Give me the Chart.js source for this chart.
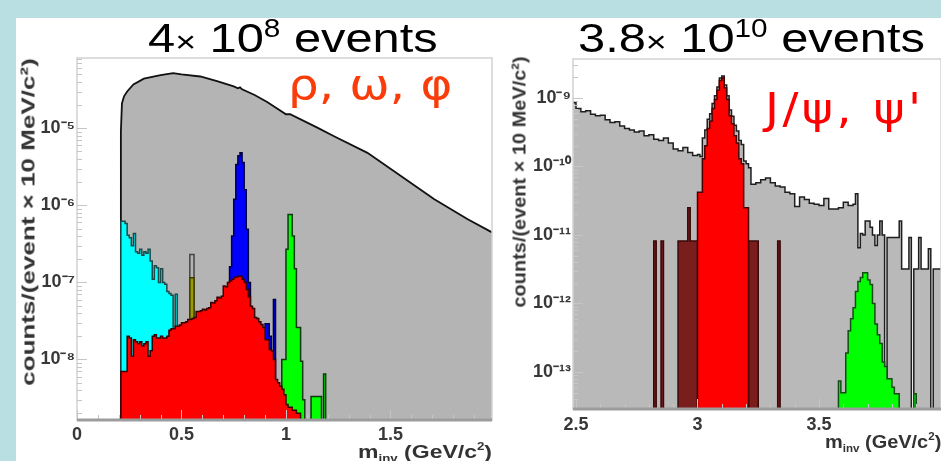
<!DOCTYPE html>
<html>
<head>
<meta charset="utf-8">
<title>Dilepton invariant mass spectra</title>
<script src="https://cdn.jsdelivr.net/npm/chart.js@4.4.1/dist/chart.umd.min.js"></script>
<style>
  body { margin: 0; width: 941px; height: 461px; overflow: hidden; position: relative;
         background: #badfe3; font-family: 'Liberation Sans', Arial, sans-serif; }
  #sheet { position: absolute; left: 16px; top: 18px; right: 0; bottom: 0; background: #fff; }
  .plot { position: absolute; top: 40px; }
  .head { position: absolute; top: 18px; font-size: 41px; line-height: 41px; white-space: nowrap; color: #000;
          transform: scaleX(1.19); transform-origin: 0 0; }
  .head .times { font-size: 30px; }
  .head sup { font-size: 25px; line-height: 0; vertical-align: 15px; }
  .tag { position: absolute; font-family: 'DejaVu Sans', sans-serif; line-height: 1; white-space: nowrap;
         transform-origin: 0 0; }
  .ytitle, .xtitle { position: absolute; font-size: 19px; font-weight: bold; color: #333;
                     line-height: 1; white-space: nowrap; }
  .xtitle { transform-origin: 0 0; }
  .xtitle sub { font-size: 11px; vertical-align: -4px; line-height: 0; }
  .xtitle sup { font-size: 11px; vertical-align: 8px; line-height: 0; }
</style>
</head>
<body>
<div id="sheet"></div>
<canvas id="lowMass" class="plot" width="484" height="421" style="left:16px"></canvas>
<canvas id="charmonium" class="plot" width="441" height="421" style="left:500px"></canvas>

<div class="head" style="left:148px">4<span class="times">×</span> 10<sup>8</sup> events</div>
<div class="head" style="left:578px">3.8<span class="times">×</span> 10<sup>10</sup> events</div>
<div class="tag" style="left:288px; top:64px; font-size:42px; color:#fa3c0a; transform: scaleX(1.15)">ρ, ω, φ</div>
<div class="tag" style="left:765px; top:88px; font-size:42px; letter-spacing: 3px; color:#f00; transform: scaleX(1.13)">J/ψ, ψ'</div>

<div class="ytitle" style="left:28px; top:222px; transform: translate(-50%,-50%) rotate(-90deg) scaleX(1.37)">counts/(event × 10 MeV/c²)</div>
<div class="ytitle" style="left:519px; top:182px; transform: translate(-50%,-50%) rotate(-90deg) scaleX(1.05)">counts/(event × 10 MeV/c²)</div>
<div class="xtitle" style="left:358px; top:442px; transform: scaleX(1.21)">m<sub>inv</sub> (GeV/c<sup>2</sup>)</div>
<div class="xtitle" style="left:825px; top:432px; transform: scaleX(1.05)">m<sub>inv</sub> (GeV/c<sup>2</sup>)</div>

<script>
// ---------- low mass region, 0 - 2 GeV/c2 ----------
const lowTicksX = [0, 0.5, 1, 1.5];
const lowDecades = [1e-8, 1e-7, 1e-6, 1e-5];

// full cocktail, smooth enough to draw as a line
const sumMass  = [0.21, 0.21, 0.215, 0.225, 0.24, 0.27, 0.32, 0.40, 0.46, 0.50, 0.59, 0.67, 0.75, 0.77,
                  0.78, 0.79, 0.85, 0.91, 1.00, 1.02, 1.15, 1.23, 1.39, 1.55, 1.71, 1.87, 1.99];
const sumYield = [0, 9e-6, 2.1e-5, 2.6e-5, 3.0e-5, 3.7e-5, 4.4e-5, 4.9e-5, 5.2e-5, 5.0e-5, 4.7e-5, 4.1e-5, 3.5e-5, 3.3e-5,
                  3.4e-5, 3.2e-5, 2.7e-5, 2.2e-5, 1.52e-5, 1.52e-5, 1.02e-5, 7.9e-6, 4.8e-6, 2.4e-6, 1.2e-6, 6.6e-7, 4.4e-7];

// bin edges (one more than contents) and contents per 10 MeV
const dalitzMass  = [0.21, 0.22, 0.23, 0.24, 0.25, 0.26, 0.27, 0.28, 0.29, 0.30, 0.31, 0.32, 0.33, 0.34, 0.35,
                     0.36, 0.37, 0.38, 0.39, 0.40, 0.41, 0.42, 0.43, 0.44, 0.45, 0.46, 0.47, 0.48, 0.49];
const dalitzYield = [6.2e-7, 6.2e-7, 5.8e-7, 4.1e-7, 3.8e-7, 3.0e-7, 4.3e-7, 2.5e-7, 2.4e-7, 2.7e-7,
                     2.25e-7, 2.5e-7, 2.4e-7, 2.7e-7, 1.9e-7, 1.1e-7, 1.65e-7, 1.55e-7, 1.0e-7, 1.5e-7,
                     1.0e-7, 9.5e-8, 7.6e-8, 7.2e-8, 6.8e-8, 2.5e-8, 7.0e-8, 1.8e-8];

const rhoMass  = [0.21, 0.22, 0.23, 0.24, 0.25, 0.26, 0.27, 0.28, 0.29, 0.30,
                  0.31, 0.32, 0.33, 0.34, 0.35, 0.36, 0.37, 0.38, 0.39, 0.40,
                  0.41, 0.42, 0.43, 0.44, 0.45, 0.46, 0.47, 0.48, 0.49, 0.50,
                  0.51, 0.52, 0.53, 0.54, 0.55, 0.56, 0.57, 0.58, 0.59, 0.60,
                  0.61, 0.62, 0.63, 0.64, 0.65, 0.66, 0.67, 0.68, 0.69, 0.70,
                  0.71, 0.72, 0.73, 0.74, 0.75, 0.76, 0.77, 0.78, 0.79, 0.80,
                  0.81, 0.82, 0.83, 0.84, 0.85, 0.86, 0.87, 0.88, 0.89, 0.90,
                  0.91, 0.92, 0.93, 0.94, 0.95, 0.96, 0.97, 0.98, 0.99, 1.00,
                  1.01, 1.02, 1.03, 1.04, 1.05, 1.06, 1.07];
const rhoYield = [7.0e-9, 7.0e-9, 7.0e-9, 2.0e-8, 1.9e-8, 1.1e-8, 1.8e-8, 1.7e-8, 1.6e-8, 1.7e-8,
                  1.5e-8, 1.6e-8, 1.7e-8, 1.1e-8, 1.3e-8, 2.0e-8, 2.1e-8, 1.9e-8, 1.9e-8, 2.0e-8,
                  1.9e-8, 1.9e-8, 2.0e-8, 2.4e-8, 2.5e-8, 2.5e-8, 2.7e-8, 2.7e-8, 2.8e-8, 3.0e-8,
                  3.0e-8, 3.1e-8, 3.3e-8, 3.3e-8, 3.4e-8, 3.5e-8, 4.2e-8, 4.2e-8, 4.3e-8, 4.5e-8,
                  4.4e-8, 4.6e-8, 4.7e-8, 5.5e-8, 5.4e-8, 5.8e-8, 6.4e-8, 6.3e-8, 6.6e-8, 9.0e-8,
                  8.8e-8, 1.0e-7, 1.04e-7, 1.1e-7, 1.16e-7, 1.18e-7, 1.2e-7, 1.2e-7, 1.1e-7, 1.0e-7,
                  8.1e-8, 6.5e-8, 4.9e-8, 4.6e-8, 3.5e-8, 3.4e-8, 3.1e-8, 2.85e-8, 2.6e-8, 1.8e-8,
                  1.8e-8, 1.35e-8, 1.3e-8, 1.0e-8, 5.5e-9, 5.0e-9, 4.5e-9, 4.1e-9, 3.5e-9, 2.6e-9,
                  2.4e-9, 2.4e-9, 2.2e-9, 2.2e-9, 2.0e-9, 2.0e-9];

const omegaMass  = [0.73, 0.74, 0.75, 0.76, 0.77, 0.78, 0.79, 0.80, 0.81, 0.82, 0.83, 0.84,
                    0.85, 0.86, 0.87, 0.88, 0.89, 0.90, 0.91, 0.92, 0.93, 0.94, 0.95];
const omegaYield = [1.6e-7, 4.0e-7, 1.2e-6, 3.4e-6, 4.4e-6, 4.8e-6, 3.6e-6, 1.6e-6, 4.9e-7, 1.0e-7, 4.0e-8,
                    3.5e-8, 3.0e-8, 2.8e-8, 2.5e-8, 2.2e-8, 2.0e-8, 2.9e-8, 2.9e-8, 2.0e-8, 1.0e-8, 6.0e-8];

const etaSumMass  = [0.54, 0.55, 0.56];
const etaSumYield = [2.3e-7, 2.3e-7];
const etaMass  = [0.54, 0.55, 0.56];
const etaYield = [1.15e-7, 1.15e-7];

const phiMass  = [0.98, 0.99, 1.00, 1.01, 1.02, 1.03, 1.04, 1.05, 1.06, 1.07, 1.08, 1.09];
const phiYield = [1.0e-8, 1.0e-8, 2.7e-7, 7.6e-7, 7.6e-7, 4.0e-7, 1.5e-7, 2.6e-8, 2.6e-8, 9.5e-9, 3.0e-9];
const phiTailMass  = [1.12, 1.17, 1.18, 1.19];
const phiTailYield = [3.3e-9, 0, 6.5e-9];

// ---------- charmonium region, 2.5 - 4 GeV/c2 ----------
const charmTicksX = [2.5, 3, 3.5];
const charmDecades = [1e-13, 1e-12, 1e-11, 1e-10, 1e-9];

const contMass  = [2.48, 2.50, 2.52, 2.54, 2.56, 2.58, 2.60, 2.62, 2.64, 2.66, 2.68, 2.70, 2.72,
                   2.74, 2.76, 2.78, 2.80, 2.82, 2.84, 2.86, 2.88, 2.90, 2.92, 2.94, 2.96, 2.98,
                   3.00, 3.01, 3.02, 3.03, 3.04, 3.05, 3.06, 3.07, 3.08, 3.09, 3.10,
                   3.11, 3.12, 3.13, 3.14, 3.15, 3.16, 3.17, 3.18, 3.19, 3.20, 3.21,
                   3.22, 3.24, 3.26, 3.28, 3.30, 3.32, 3.34, 3.36, 3.38, 3.40, 3.42,
                   3.44, 3.46, 3.48, 3.50, 3.52, 3.54, 3.56, 3.58, 3.60, 3.62,
                   3.64, 3.65, 3.66, 3.67, 3.68, 3.69, 3.70, 3.71, 3.72, 3.73, 3.74, 3.75,
                   3.76, 3.77, 3.78, 3.79, 3.80, 3.81, 3.82, 3.83, 3.84, 3.85, 3.86, 3.87,
                   3.88, 3.89, 3.90, 3.91, 3.92, 3.93, 3.94, 3.95, 3.96, 3.97, 3.98, 3.99, 4.01];
const contYield = [8.5e-10, 7.0e-10, 6.3e-10, 6.5e-10, 5.8e-10, 5.5e-10, 5.6e-10, 4.8e-10, 4.4e-10, 4.5e-10,
                   3.9e-10, 3.6e-10, 3.4e-10, 3.2e-10, 3.3e-10, 2.8e-10, 2.9e-10, 2.5e-10, 2.4e-10, 2.6e-10,
                   2.2e-10, 1.8e-10, 1.7e-10, 1.9e-10, 1.6e-10, 1.45e-10,
                   1.5e-10, 1.4e-10, 2.6e-10, 3.4e-10, 4.9e-10, 5.9e-10, 8.3e-10, 1.08e-9, 1.45e-9, 1.95e-9, 2.1e-9,
                   1.55e-9, 1.08e-9, 6.7e-10, 5.4e-10, 4.0e-10, 3.3e-10, 2.4e-10, 2.1e-10, 1.2e-10, 1.1e-10, 9.6e-11,
                   5.5e-11, 5.8e-11, 6.4e-11, 6.8e-11, 5.8e-11, 5.2e-11, 5.0e-11, 4.2e-11, 4.0e-11, 2.6e-11, 3.6e-11,
                   3.3e-11, 2.9e-11, 2.8e-11, 2.7e-11, 3.4e-11, 2.4e-11, 2.4e-11, 2.5e-11, 3.0e-11, 2.7e-11,
                   2.8e-11, 4.0e-11, 6.5e-12, 1.05e-11, 1.0e-11, 1.6e-11, 1.6e-11, 1.3e-11, 1.0e-11, 7.0e-12, 1.0e-11, 1.6e-11,
                   1.0e-11, 0, 9.2e-12, 9.2e-12, 9.2e-12, 9.2e-12, 9.2e-12, 1.6e-11, 3.2e-12, 3.2e-12, 3.2e-12, 9.2e-12,
                   0, 3.2e-12, 3.2e-12, 9.2e-12, 3.2e-12, 3.2e-12, 3.2e-12, 6.3e-12, 0, 3.2e-12, 3.2e-12, 3.2e-12];

const jpsiMass  = [3.00, 3.01, 3.02, 3.03, 3.04, 3.05, 3.06, 3.07, 3.08, 3.09, 3.10,
                   3.11, 3.12, 3.13, 3.14, 3.15, 3.16, 3.17, 3.18, 3.19, 3.20, 3.21];
const jpsiYield = [4.2e-11, 4.2e-11, 1.3e-10, 2.0e-10, 3.6e-10, 4.6e-10, 7.0e-10, 9.5e-10, 1.3e-9, 1.8e-9, 1.95e-9,
                   1.4e-9, 9.5e-10, 5.5e-10, 4.2e-10, 2.8e-10, 2.2e-10, 1.3e-10, 1.1e-10, 2.5e-11, 2.5e-11];
// single-count J/psi bins away from the peak
const jpsiLowMass  = [2.82, 2.83, 2.85, 2.86, 2.92, 2.96, 2.97, 3.00, 3.21, 3.25, 3.33, 3.34];
const jpsiLowYield = [8.2e-12, 0, 8.2e-12, 0, 8.2e-12, 2.5e-11, 8.2e-12, 0, 8.2e-12, 0, 8.2e-12];

const psiMass  = [3.58, 3.59, 3.60, 3.61, 3.62, 3.63, 3.64, 3.65, 3.66, 3.67, 3.68, 3.69, 3.70,
                  3.71, 3.72, 3.73, 3.74, 3.75, 3.76, 3.77, 3.78, 3.79, 3.80, 3.81, 3.82, 3.83, 3.89, 3.90];
const psiYield = [7.4e-14, 5.0e-14, 5.0e-14, 1.9e-13, 4.0e-13, 6.0e-13, 8.7e-13, 1.5e-12, 2.1e-12, 2.4e-12, 2.8e-12,
                  2.8e-12, 2.2e-12, 1.9e-12, 1.0e-12, 5.0e-13, 3.5e-13, 2.6e-13, 1.4e-13, 1.2e-13, 8.0e-14,
                  8.0e-14, 6.0e-14, 4.8e-14, 4.8e-14, 0, 4.8e-14];

// edges + contents -> closed outline that steps up from and back down to the axis
// (stepped: true runs level to the next edge first, so each content holds over its own bin)
function histPoints(edges, counts) {
  const pts = [{ x: edges[0], y: 0 }];
  counts.forEach((c, i) => pts.push({ x: edges[i], y: c }));
  pts.push({ x: edges[edges.length - 1], y: 0 });
  return pts;
}

function hist(edges, counts, fill, line) {
  return { data: histPoints(edges, counts), backgroundColor: fill, borderColor: line, stepped: true };
}

const SUP = { '-': '⁻', '0': '⁰', '1': '¹', '2': '²', '3': '³', '4': '⁴', '5': '⁵', '6': '⁶', '7': '⁷', '8': '⁸', '9': '⁹' };
function powerLabel(v) {
  const e = String(Math.round(Math.log10(v)));
  return '10' + e.split('').map(c => SUP[c]).join('');
}

const tickFont = { family: "'Liberation Sans', Arial, sans-serif", size: 18, weight: 'bold' };

// light frame, log minor ticks and the heavy bottom axis line
const framePlugin = {
  id: 'frame',
  afterDatasetsDraw(chart) {
    const { ctx, chartArea: a, scales: { x, y } } = chart;
    ctx.save();
    ctx.strokeStyle = '#d2d2d2';
    ctx.lineWidth = 1.5;
    ctx.strokeRect(a.left, a.top, a.right - a.left, a.bottom - a.top);

    ctx.strokeStyle = '#c6c6c6';
    ctx.lineWidth = 1;
    const lo = Math.floor(Math.log10(y.min)), hi = Math.ceil(Math.log10(y.max));
    for (let e = lo; e <= hi; e++) {
      for (let k = 1; k <= 9; k++) {
        const v = k * Math.pow(10, e);
        if (v < y.min || v > y.max) continue;
        const py = Math.round(y.getPixelForValue(v)) + 0.5;
        ctx.beginPath();
        ctx.moveTo(a.left, py);
        ctx.lineTo(a.left + (k === 1 ? 10 : 5), py);
        ctx.stroke();
      }
    }
    for (let t = Math.ceil(x.min * 10); t <= Math.floor(x.max * 10); t++) {
      const px = Math.round(x.getPixelForValue(t / 10)) + 0.5;
      ctx.beginPath();
      ctx.moveTo(px, a.bottom);
      ctx.lineTo(px, a.bottom - (t % 5 === 0 ? 10 : 5));
      ctx.stroke();
    }

    ctx.strokeStyle = '#9c9c9c';
    ctx.lineWidth = 3;
    ctx.beginPath();
    ctx.moveTo(a.left, a.bottom);
    ctx.lineTo(a.right, a.bottom);
    ctx.stroke();
    ctx.restore();
  }
};

function makePanel(id, o) {
  // the log axis drops zero contents, so empty bins are pushed one decade under the axis instead
  const floor = o.yMin / 10;
  const datasets = o.datasets.map((d, i) => Object.assign(
    { order: -i, pointRadius: 0, borderWidth: 1.5, fill: 'start', tension: 0 }, d,
    { data: d.data.map(p => (p.y > 0 ? p : { x: p.x, y: floor })) }));

  return new Chart(document.getElementById(id), {
    type: 'line',
    data: { datasets },   // listed back to front
    options: {
      responsive: false,
      animation: false,
      devicePixelRatio: 1,
      layout: { padding: o.padding },
      plugins: { legend: { display: false }, tooltip: { enabled: false } },
      scales: {
        x: {
          type: 'linear', min: o.xMin, max: o.xMax,
          grid: { display: false, drawTicks: false },
          border: { display: false },
          ticks: { font: tickFont, color: '#383838', padding: o.xPad, maxRotation: 0, autoSkip: false,
                   callback: v => String(v) },
          afterBuildTicks: s => { s.ticks = o.xTicks.map(v => ({ value: v })); },
          afterFit: s => { s.height = o.xHeight; }
        },
        y: {
          type: 'logarithmic', min: o.yMin, max: o.yMax,
          grid: { display: false, drawTicks: false },
          border: { display: false },
          ticks: { font: tickFont, color: '#383838', padding: 2, autoSkip: false, callback: v => powerLabel(v) },
          afterBuildTicks: s => { s.ticks = o.decades.map(v => ({ value: v })); },
          afterFit: s => { s.width = o.yWidth; }
        }
      }
    },
    plugins: [framePlugin]
  });
}

makePanel('lowMass', {
  padding: { top: 18, right: 8, left: 0, bottom: 0 },
  xMin: 0, xMax: 1.986, xTicks: lowTicksX, xHeight: 41, xPad: 4,
  yMin: Math.pow(10, -8.785), yMax: Math.pow(10, -4.088), decades: lowDecades, yWidth: 61,
  datasets: [
    { data: sumMass.map((m, i) => ({ x: m, y: sumYield[i] })), backgroundColor: '#b4b4b4',
      borderColor: '#111', borderWidth: 1.8, stepped: false },
    hist(dalitzMass, dalitzYield, '#00ffff', '#1b4a4a'),
    hist(omegaMass, omegaYield, '#0000ff', '#000040'),
    hist(etaSumMass, etaSumYield, '#b4b4b4', '#444'),
    hist(etaMass, etaYield, '#9b9b00', '#3d3d00'),
    hist(phiMass, phiYield, '#00ff00', '#0b3b0b'),
    hist(phiTailMass, phiTailYield, '#00ff00', '#0b3b0b'),
    hist(rhoMass, rhoYield, '#ff0000', '#3b0000')
  ]
});

makePanel('charmonium', {
  padding: { top: 19, right: 0, left: 0, bottom: 0 },
  xMin: 2.4877, xMax: 4.002, xTicks: charmTicksX, xHeight: 52, xPad: 5,
  yMin: Math.pow(10, -13.54), yMax: Math.pow(10, -8.431), decades: charmDecades, yWidth: 73,
  datasets: [
    hist(contMass, contYield, '#b9b9b9', '#1e1e1e'),
    hist(jpsiLowMass, jpsiLowYield, '#7a1d1d', '#3a0808'),
    hist(jpsiMass, jpsiYield, '#ff0000', '#4a0000'),
    hist(psiMass, psiYield, '#00ff00', '#134d13')
  ]
});
</script>
</body>
</html>
